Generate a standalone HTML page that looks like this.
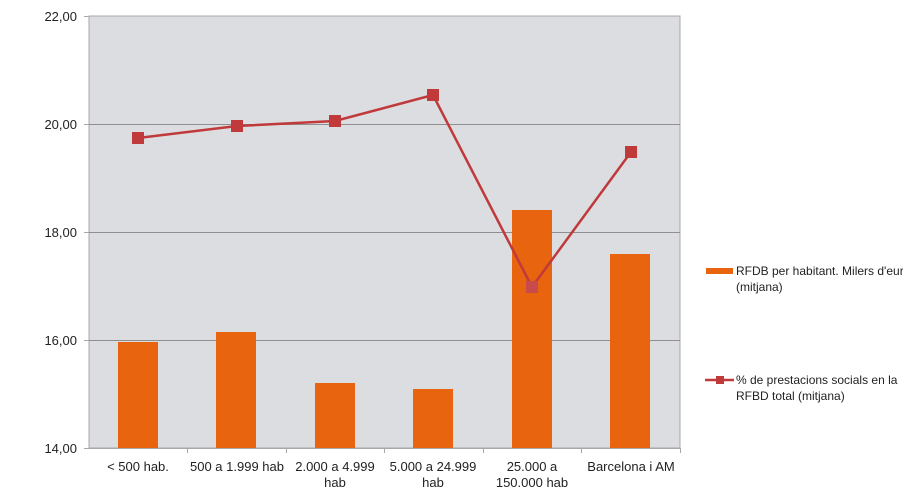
<!DOCTYPE html>
<html><head><meta charset="utf-8"><style>
body{margin:0;background:#fff;}
svg{display:block;font-family:"Liberation Sans",Arial,sans-serif;}
</style></head><body>
<svg width="919" height="504" viewBox="0 0 919 504">
<rect x="89" y="16" width="591" height="432" fill="#dcdde0" stroke="#a8a8a8" stroke-width="1"/>
<g stroke="#8e8e8e" stroke-width="1">
<line x1="89" y1="124.5" x2="680" y2="124.5"/>
<line x1="89" y1="232.5" x2="680" y2="232.5"/>
<line x1="89" y1="340.5" x2="680" y2="340.5"/>
</g>
<g stroke="#a8a8a8" stroke-width="1">
<line x1="84" y1="16.5" x2="89" y2="16.5"/><line x1="84" y1="124.5" x2="89" y2="124.5"/>
<line x1="84" y1="232.5" x2="89" y2="232.5"/><line x1="84" y1="340.5" x2="89" y2="340.5"/>
<line x1="84" y1="448.5" x2="680" y2="448.5"/>
<line x1="187.5" y1="448" x2="187.5" y2="453"/><line x1="286.5" y1="448" x2="286.5" y2="453"/>
<line x1="384.5" y1="448" x2="384.5" y2="453"/><line x1="483.5" y1="448" x2="483.5" y2="453"/>
<line x1="581.5" y1="448" x2="581.5" y2="453"/><line x1="680.5" y1="448" x2="680.5" y2="453"/>
</g>
<g font-size="13" fill="#222" text-anchor="end">
<text x="77" y="21">22,00</text><text x="77" y="129">20,00</text>
<text x="77" y="237">18,00</text><text x="77" y="345">16,00</text><text x="77" y="453">14,00</text>
</g>
<g fill="#e8640f">
<rect x="118" y="342" width="40" height="106"/>
<rect x="216" y="332" width="40" height="116"/>
<rect x="315" y="383" width="40" height="65"/>
<rect x="413" y="389" width="40" height="59"/>
<rect x="512" y="210" width="40" height="238"/>
<rect x="610" y="254" width="40" height="194"/>
</g>
<polyline points="138,138 237,126 335,121 433,95 532,287 631,152" fill="none" stroke="#c0393b" stroke-width="2.5"/>
<g fill="#c0393b">
<rect x="132" y="132" width="12" height="12"/><rect x="231" y="120" width="12" height="12"/>
<rect x="329" y="115" width="12" height="12"/><rect x="427" y="89" width="12" height="12"/>
<rect x="526" y="281" width="12" height="12" fill="#c94a4a"/><rect x="625" y="146" width="12" height="12"/>
</g>
<g font-size="13" fill="#222" text-anchor="middle">
<text x="138" y="471">&lt; 500 hab.</text>
<text x="237" y="471">500 a 1.999 hab</text>
<text x="335" y="471">2.000 a 4.999</text><text x="335" y="487">hab</text>
<text x="433" y="471">5.000 a 24.999</text><text x="433" y="487">hab</text>
<text x="532" y="471">25.000 a</text><text x="532" y="487">150.000 hab</text>
<text x="631" y="471">Barcelona i AM</text>
</g>
<rect x="706" y="268" width="27" height="6" fill="#e8640f"/>
<line x1="705" y1="380" x2="734" y2="380" stroke="#c0393b" stroke-width="2.5"/>
<rect x="716" y="376" width="8" height="8" fill="#c0393b"/>
<g font-size="12" fill="#222">
<text x="736" y="275">RFDB per habitant. Milers d'eur</text>
<text x="736" y="291">(mitjana)</text>
<text x="736" y="384">% de prestacions socials en la</text>
<text x="736" y="400">RFBD total (mitjana)</text>
</g>
<rect x="903" y="250" width="16" height="40" fill="#fff"/>
</svg>
</body></html>
